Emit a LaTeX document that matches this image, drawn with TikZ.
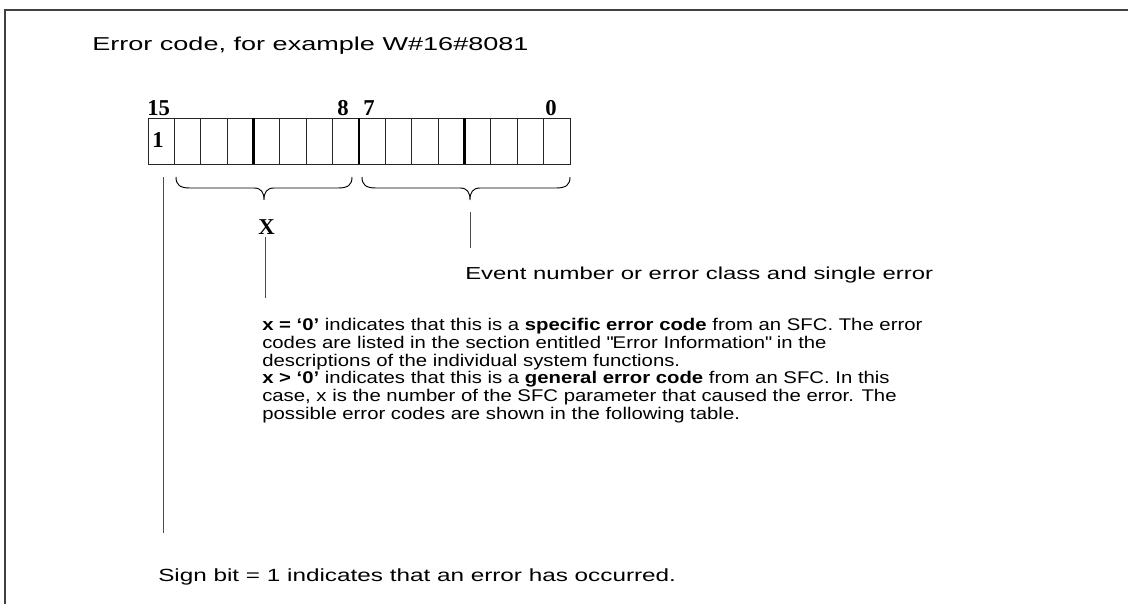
\documentclass[tikz,border=0pt]{standalone}
\usepackage{fontspec}
\setmainfont{Liberation Sans}[FakeStretch=1.38]
\newfontfamily\parafont{Liberation Sans}[FakeStretch=1.2]
\newfontfamily\titlefont{Liberation Sans}[FakeStretch=1.45]
\newfontfamily\labfont{Liberation Serif}
\newcommand\dq{\XeTeXglyph\XeTeXcharglyph"22\relax}
\begin{document}
\begin{tikzpicture}[x=0.75pt,y=-0.75pt,
  txt/.style={inner sep=0pt,anchor=base west,font=\fontsize{13}{15}\selectfont},
  ttl/.style={inner sep=0pt,anchor=base west,font=\titlefont\fontsize{14}{16}\selectfont},
  para/.style={inner sep=0pt,anchor=north west,align=left,font=\parafont\fontsize{12.7}{13.35}\selectfont},
  lab/.style={inner sep=0pt,anchor=base west,font=\labfont\bfseries\fontsize{17}{18}\selectfont},
  thin/.style={line width=0.75pt,draw=black!85},
  thick/.style={line width=2pt,draw=black},
  frame/.style={line width=1.2pt,draw=black!75},
  lead/.style={line width=0.7pt,draw=black!70},
  brace/.style={line width=0.7pt,draw=black}]
\useasboundingbox (0,0) rectangle (1128,604);
\draw[frame] (5,604) -- (5,10) -- (1128,10);
\node[ttl] (title) at (92,50) {Error code, for example W\#16\#8081};
% register
\node[draw,thin,minimum width=422*0.75pt,minimum height=46*0.75pt,anchor=north west,inner sep=0pt] (reg) at (148,118) {};
\foreach \i in {1,...,15}{
  \pgfmathsetmacro\xx{148+\i*26.375}
  \ifnum\i=4 \draw[thick] (\xx,118) -- (\xx,164);
  \else\ifnum\i=8 \draw[thick] (\xx,118) -- (\xx,164);
  \else\ifnum\i=12 \draw[thick] (\xx,118) -- (\xx,164);
  \else \draw[thin] (\xx,118) -- (\xx,164);
  \fi\fi\fi
}
\node[lab] (b15) at (147,115) {15};
\node[lab] (b8) at (337,115) {8};
\node[lab] (b7) at (363,115) {7};
\node[lab] (b0) at (545,115) {0};
\node[lab] (one) at (152,147) {1};
% braces
\draw[brace] (176,177) .. controls (176,185) and (180,188) .. (190,188) -- (254,188)
  .. controls (261,188) and (264,192) .. (264,200) coordinate (tipL)
  .. controls (264,192) and (267,188) .. (274,188) -- (338,188)
  .. controls (348,188) and (352,185) .. (352,177);
\draw[brace] (362,177) .. controls (362,185) and (366,188) .. (376,188) -- (460,188)
  .. controls (467,188) and (470,192) .. (470,200) coordinate (tipR)
  .. controls (470,192) and (473,188) .. (480,188) -- (556,188)
  .. controls (566,188) and (570,185) .. (570,177);
\node[lab] (X) at (258,234) {X};
\coordinate (xend) at (265,298);
\draw[lead] (X.south -| xend) ++(0,3) -- (xend);
\coordinate (rtop) at (470,212);
\coordinate (rend) at (470,248);
\draw[lead] (rtop) -- (rend);
\node[txt] (event) at (465,279) {Event number or error class and single error};
\node[para] (desc) at (262,318) {\textbf{x = ‘0’} indicates that this is a \textbf{specific error code} from an SFC. The error\\
codes are listed in the section entitled \dq Error Information\dq{} in the\\
descriptions of the individual system functions.\\
\textbf{x > ‘0’} indicates that this is a \textbf{general error code} from an SFC. In this\\
case, x is the number of the SFC parameter that caused the error. The\\
possible error codes are shown in the following table.};
\coordinate (stop) at (163,177);
\coordinate (send) at (163,533);
\draw[lead] (stop) -- (send);
\node[txt,font=\fontsize{13.2}{15}\selectfont] (sign) at (158,581) {Sign bit = 1 indicates that an error has occurred.};
\end{tikzpicture}
\end{document}
